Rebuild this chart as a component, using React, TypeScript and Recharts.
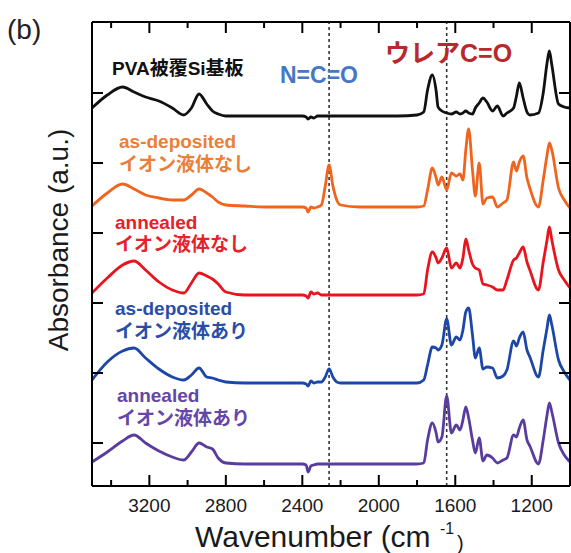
import { LineChart, Line, XAxis, YAxis, ReferenceLine } from 'recharts'

// wavenumber grid (cm-1), shared by all five spectra
const wavenumber = [
  3500, 3420, 3340, 3280, 3220, 3150, 3080, 3020, 2980, 2940, 2900, 2870, 2840, 2800,
  2700, 2600, 2500, 2400, 2380, 2370, 2355, 2340, 2320, 2300, 2280, 2260, 2240, 2220,
  2200, 2100, 2000, 1900, 1800, 1765, 1745, 1720, 1700, 1690, 1670, 1645, 1620, 1595,
  1575, 1560, 1545, 1530, 1510, 1495, 1475, 1455, 1435, 1405, 1380, 1350, 1330, 1295,
  1280, 1265, 1245, 1225, 1210, 1165, 1140, 1120, 1108, 1095, 1060, 1030, 1000,
]

// PVA被覆Si基板
const pvaSi = [
  3.78, 3.91, 3.99, 3.94, 3.89, 3.85, 3.78, 3.71, 3.78, 3.92, 3.82, 3.75, 3.72, 3.70,
  3.70, 3.70, 3.70, 3.70, 3.69, 3.67, 3.69, 3.68, 3.70, 3.70, 3.70, 3.70, 3.70, 3.70,
  3.70, 3.70, 3.70, 3.70, 3.71, 3.74, 3.96, 4.11, 3.95, 3.79, 3.75, 3.73, 3.72, 3.74,
  3.72, 3.73, 3.75, 3.73, 3.72, 3.78, 3.83, 3.88, 3.84, 3.75, 3.80, 3.70, 3.73, 3.78,
  3.90, 4.03, 3.88, 3.74, 3.71, 3.73, 3.93, 4.23, 4.35, 4.21, 3.82, 3.79, 3.78,
]

// as-deposited, no ionic liquid
const asDepNoIL = [
  2.80, 2.93, 3.02, 2.97, 2.91, 2.88, 2.86, 2.86, 2.91, 2.97, 2.93, 2.89, 2.84, 2.81,
  2.80, 2.79, 2.79, 2.79, 2.78, 2.74, 2.79, 2.78, 2.79, 2.81, 3.00, 3.21, 3.00, 2.86,
  2.81, 2.79, 2.79, 2.79, 2.79, 2.80, 2.96, 3.18, 3.08, 3.01, 3.09, 2.96, 3.13, 3.10,
  3.12, 3.06, 3.36, 3.57, 3.16, 2.90, 3.23, 2.82, 2.88, 2.89, 2.79, 2.83, 2.86, 3.24,
  3.15, 3.24, 3.30, 3.08, 2.98, 2.79, 3.06, 3.31, 3.43, 3.36, 2.98, 2.86, 2.78,
]

// annealed, no ionic liquid
const annNoIL = [
  1.93, 2.08, 2.21, 2.25, 2.16, 2.04, 1.96, 1.93, 2.03, 2.13, 2.10, 2.07, 2.02, 1.94,
  1.91, 1.91, 1.91, 1.91, 1.90, 1.88, 1.94, 1.92, 1.93, 1.91, 1.91, 1.91, 1.91, 1.91,
  1.91, 1.91, 1.91, 1.91, 1.91, 1.92, 2.16, 2.34, 2.28, 2.23, 2.28, 2.38, 2.18, 2.23,
  2.18, 2.28, 2.47, 2.36, 2.22, 2.18, 2.16, 2.02, 2.01, 1.99, 1.96, 1.96, 2.06, 2.26,
  2.28, 2.33, 2.39, 2.24, 2.16, 1.96, 2.24, 2.46, 2.59, 2.46, 2.16, 2.06, 1.98,
]

// as-deposited, with ionic liquid
const asDepIL = [
  1.06, 1.24, 1.35, 1.38, 1.28, 1.17, 1.09, 1.06, 1.11, 1.18, 1.09, 1.08, 1.06, 1.04,
  1.03, 1.03, 1.03, 1.03, 1.02, 1.00, 1.05, 1.03, 1.04, 1.04, 1.09, 1.17, 1.09, 1.04,
  1.03, 1.03, 1.03, 1.03, 1.03, 1.06, 1.21, 1.39, 1.38, 1.36, 1.41, 1.67, 1.41, 1.49,
  1.46, 1.56, 1.74, 1.78, 1.51, 1.28, 1.38, 1.17, 1.19, 1.18, 1.08, 1.10, 1.16, 1.45,
  1.40, 1.48, 1.54, 1.36, 1.29, 1.09, 1.36, 1.58, 1.71, 1.61, 1.26, 1.14, 1.06,
]

// annealed, with ionic liquid
const annIL = [
  0.24, 0.34, 0.45, 0.51, 0.43, 0.35, 0.29, 0.26, 0.34, 0.43, 0.39, 0.37, 0.28, 0.23,
  0.22, 0.22, 0.22, 0.22, 0.21, 0.14, 0.20, 0.21, 0.22, 0.22, 0.22, 0.22, 0.22, 0.22,
  0.22, 0.22, 0.22, 0.22, 0.22, 0.23, 0.46, 0.63, 0.53, 0.44, 0.49, 0.90, 0.53, 0.61,
  0.56, 0.66, 0.79, 0.68, 0.46, 0.33, 0.48, 0.25, 0.31, 0.28, 0.23, 0.26, 0.28, 0.51,
  0.49, 0.58, 0.66, 0.46, 0.40, 0.22, 0.46, 0.71, 0.83, 0.74, 0.43, 0.31, 0.24,
]

const majorTicks = [3200, 2800, 2400, 2000, 1600, 1200]
const minorTicks = [3400, 3000, 2600, 2200, 1800, 1400]
const yTicks = [0.43, 1.13, 1.83, 2.53, 3.23, 3.93]
const markers = [2260, 1645] // N=C=O, urea C=O

const X_MIN = 1000
const X_MAX = 3500
const Y_MIN = 0
const Y_MAX = 4.64

// plot frame in page pixels
const W = 571
const H = 553
const PLOT = { left: 92, right: 570, top: 22, bottom: 486 }

const data = wavenumber.map((wn, i) => ({
  wn,
  pva: pvaSi[i],
  asDepNoIL: asDepNoIL[i],
  annNoIL: annNoIL[i],
  asDepIL: asDepIL[i],
  annIL: annIL[i],
}))

const font = "'Liberation Sans', Arial, 'Noto Sans CJK JP', sans-serif"
const axisStroke = { stroke: '#000', strokeWidth: 2 }

// same linear mapping the chart uses (x reversed), for the inward frame ticks
const sx = (wn: number) => PLOT.left + ((X_MAX - wn) / (X_MAX - X_MIN)) * (PLOT.right - PLOT.left)
const sy = (v: number) => PLOT.bottom - ((v - Y_MIN) / (Y_MAX - Y_MIN)) * (PLOT.bottom - PLOT.top)

function FrameTicks() {
  const xs = [
    ...majorTicks.map((t) => ({ t, len: 11 })),
    ...minorTicks.map((t) => ({ t, len: 6 })),
  ]
  return (
    <g stroke="#000" strokeWidth={2}>
      {xs.map(({ t, len }) => (
        <g key={t}>
          <line x1={sx(t)} y1={PLOT.bottom} x2={sx(t)} y2={PLOT.bottom - len} />
          <line x1={sx(t)} y1={PLOT.top} x2={sx(t)} y2={PLOT.top + len} />
        </g>
      ))}
      {yTicks.map((t) => (
        <g key={t}>
          <line x1={PLOT.left} y1={sy(t)} x2={PLOT.left + 11} y2={sy(t)} />
          <line x1={PLOT.right} y1={sy(t)} x2={PLOT.right - 11} y2={sy(t)} />
        </g>
      ))}
    </g>
  )
}

function BottomLabel({ x, y, payload }: any) {
  return (
    <text x={x} y={y + 26} textAnchor="middle" fontSize={19} fill="#1a1a1a" fontFamily={font}>
      {payload.value}
    </text>
  )
}

export default function App() {
  return (
    <div style={{ position: 'absolute', left: 0, top: 0, width: W, height: H, background: '#fff' }}>
      <LineChart
        width={W}
        height={H}
        data={data}
        margin={{ top: PLOT.top - 1, right: W - PLOT.right - 1, bottom: H - PLOT.bottom - 1, left: PLOT.left - 1 }}
      >
        <XAxis
          xAxisId="bottom"
          dataKey="wn"
          type="number"
          domain={[X_MIN, X_MAX]}
          reversed
          ticks={majorTicks}
          interval={0}
          height={1}
          tickSize={0}
          tickMargin={0}
          tickLine={false}
          axisLine={axisStroke}
          tick={BottomLabel}
        />
        <XAxis
          xAxisId="top"
          orientation="top"
          dataKey="wn"
          type="number"
          domain={[X_MIN, X_MAX]}
          reversed
          height={1}
          tick={false}
          tickLine={false}
          axisLine={axisStroke}
        />
        <YAxis
          yAxisId="left"
          type="number"
          domain={[Y_MIN, Y_MAX]}
          width={1}
          tick={false}
          tickLine={false}
          axisLine={axisStroke}
        />
        <YAxis
          yAxisId="right"
          orientation="right"
          type="number"
          domain={[Y_MIN, Y_MAX]}
          width={1}
          tick={false}
          tickLine={false}
          axisLine={axisStroke}
        />
        {markers.map((m) => (
          <ReferenceLine
            key={m}
            x={m}
            xAxisId="bottom"
            yAxisId="left"
            stroke="#333"
            strokeWidth={1.6}
            strokeDasharray="3 3"
          />
        ))}
        <Line xAxisId="bottom" yAxisId="left" type="monotone" dataKey="pva" stroke="#111111" strokeWidth={2.8} dot={false} isAnimationActive={false} />
        <Line xAxisId="bottom" yAxisId="left" type="monotone" dataKey="asDepNoIL" stroke="#f0641e" strokeWidth={2.8} dot={false} isAnimationActive={false} />
        <Line xAxisId="bottom" yAxisId="left" type="monotone" dataKey="annNoIL" stroke="#e8141e" strokeWidth={2.8} dot={false} isAnimationActive={false} />
        <Line xAxisId="bottom" yAxisId="left" type="monotone" dataKey="asDepIL" stroke="#1d47a6" strokeWidth={2.8} dot={false} isAnimationActive={false} />
        <Line xAxisId="bottom" yAxisId="left" type="monotone" dataKey="annIL" stroke="#5a3c9e" strokeWidth={2.8} dot={false} isAnimationActive={false} />
      </LineChart>
      <svg
        width={W}
        height={H}
        style={{ position: 'absolute', left: 0, top: 0, pointerEvents: 'none' }}
        fontFamily={font}
      >
        <FrameTicks />
        <text x={7} y={39} fontSize={28} fill="#222">(b)</text>
        <text x={112} y={75} fontSize={19} fontWeight="bold" fill="#111">PVA被覆Si基板</text>
        <text x={280} y={83} fontSize={23} fontWeight="bold" fill="#4677c5">N=C=O</text>
        <text x={385} y={62} fontSize={25} fontWeight="bold" fill="#b8282c">ウレアC=O</text>

        <text x={119} y={148} fontSize={19} fontWeight="bold" fill="#e9803a">as-deposited</text>
        <text x={119} y={171} fontSize={19} fontWeight="bold" fill="#e9803a">イオン液体なし</text>

        <text x={115} y={229} fontSize={19} fontWeight="bold" fill="#e8202a">annealed</text>
        <text x={115} y={251} fontSize={19} fontWeight="bold" fill="#e8202a">イオン液体なし</text>

        <text x={115} y={315} fontSize={19} fontWeight="bold" fill="#2a4ea6">as-deposited</text>
        <text x={115} y={338} fontSize={19} fontWeight="bold" fill="#2a4ea6">イオン液体あり</text>

        <text x={117} y={402} fontSize={19} fontWeight="bold" fill="#6446a8">annealed</text>
        <text x={117} y={425} fontSize={19} fontWeight="bold" fill="#6446a8">イオン液体あり</text>

        <text x={68} y={240} fontSize={28} fill="#1a1a1a" textAnchor="middle" transform="rotate(-90 68 240)">
          Absorbance (a.u.)
        </text>
        <text x={195} y={547} fontSize={30} fill="#1a1a1a">
          Wavenumber (cm
        </text>
        <text x={440} y={534} fontSize={16} fill="#1a1a1a">-1</text>
        <text x={457} y={550} fontSize={20} fill="#1a1a1a">)</text>
      </svg>
    </div>
  )
}
